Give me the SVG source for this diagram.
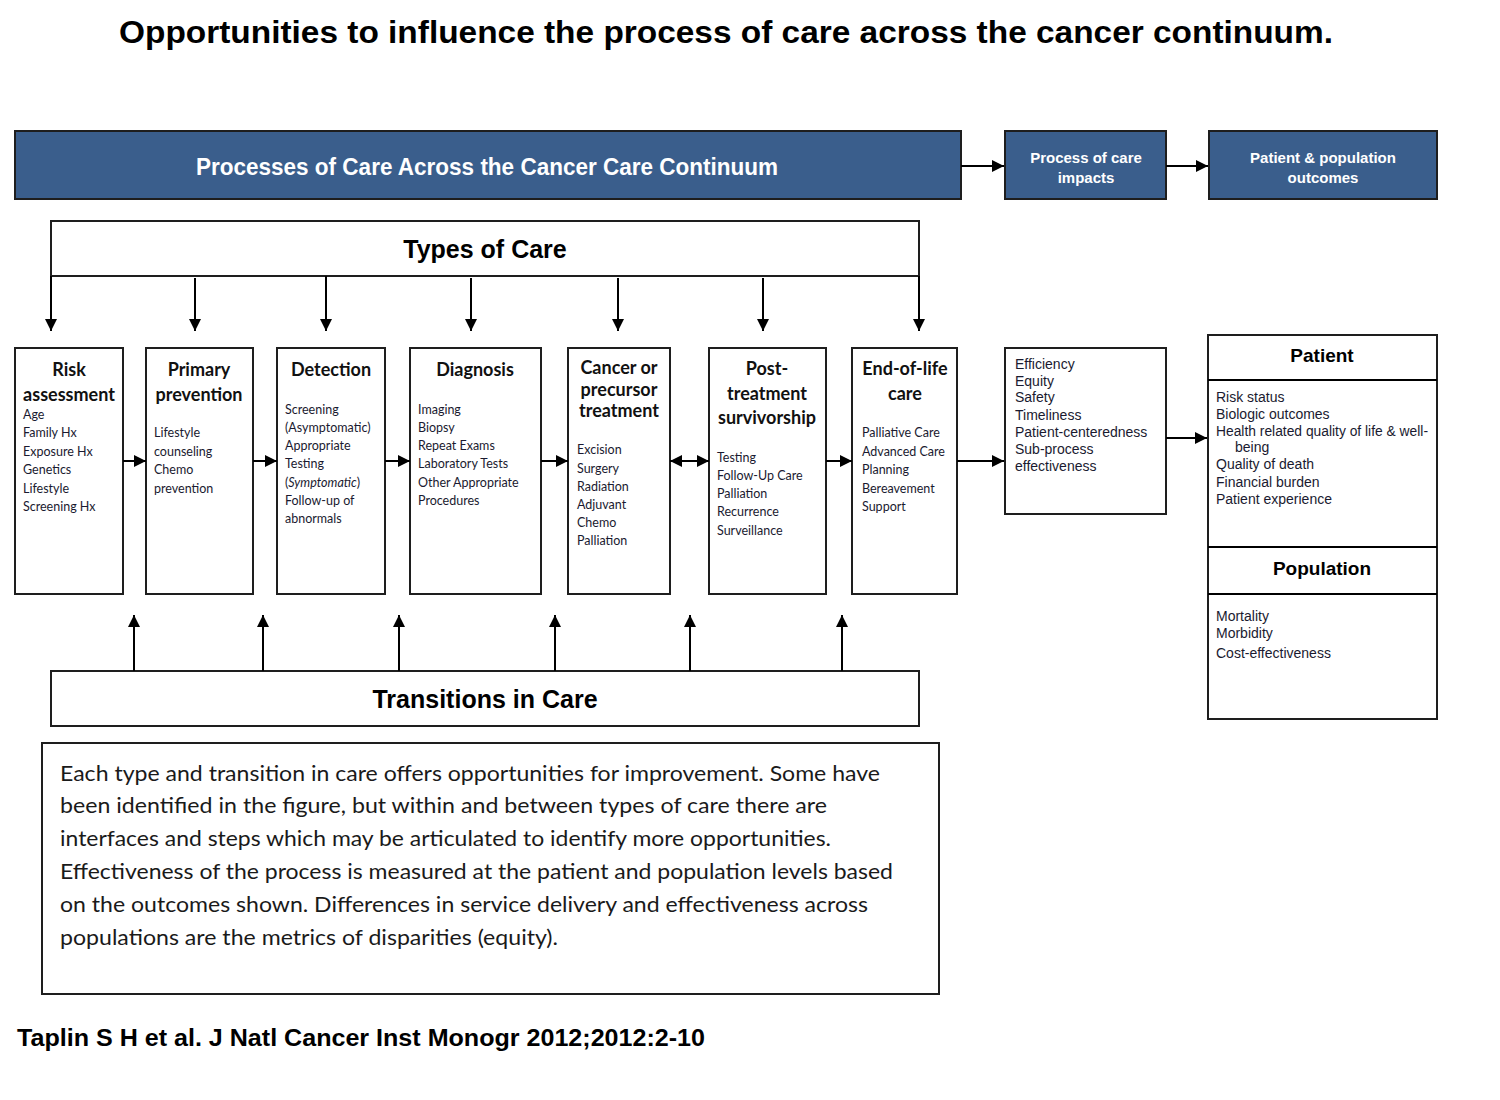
<svg xmlns="http://www.w3.org/2000/svg" width="1500" height="1100" viewBox="0 0 1500 1100">
<style>
.bg{fill:#fff}
.blue{fill:#3A5E8C;stroke:#1e1e1e;stroke-width:2}
.box{fill:#fff;stroke:#1e1e1e;stroke-width:2}
.wt{fill:#fff;font-family:"Liberation Sans",Arial,sans-serif;font-weight:bold;text-anchor:middle}
.hd{fill:#000;font-family:"Liberation Sans",Arial,sans-serif;font-weight:bold;text-anchor:middle}
.st{fill:#111;font-family:Lato,"Open Sans",sans-serif;font-weight:bold;font-size:18px;text-anchor:middle}
.it{fill:#1a1a30;font-family:Lato,"Open Sans",sans-serif;font-size:12.5px}
.ar{fill:#1a1a30;font-family:"Liberation Sans",Arial,sans-serif;font-size:14px}
.para{fill:#1a1a1a;font-family:Lato,"Open Sans",sans-serif;font-size:22px}
.ln{stroke:#000;stroke-width:2;fill:none}
</style>
<defs>
<marker id="ah" viewBox="0 0 10 10" refX="10" refY="5" markerWidth="12" markerHeight="12" markerUnits="userSpaceOnUse" orient="auto-start-reverse">
<path d="M0,0 L10,5 L0,10 z" fill="#000"/>
</marker>
</defs>
<rect class="bg" x="0" y="0" width="1500" height="1100"/>

<text id="title" x="726" y="43" class="hd" font-size="32" textLength="1214" lengthAdjust="spacingAndGlyphs">Opportunities to influence the process of care across the cancer continuum.</text>

<g id="header">
<rect class="blue" x="15" y="131" width="946" height="68"/>
<text class="wt" x="487" y="175" font-size="23" textLength="582" lengthAdjust="spacingAndGlyphs">Processes of Care Across the Cancer Care Continuum</text>
</g>
<g id="impacts-header">
<rect class="blue" x="1005" y="131" width="161" height="68"/>
<text class="wt" x="1086" y="163" font-size="15">Process of care</text>
<text class="wt" x="1086" y="183" font-size="15">impacts</text>
</g>
<g id="outcomes-header">
<rect class="blue" x="1209" y="131" width="228" height="68"/>
<text class="wt" x="1323" y="163" font-size="15">Patient &amp; population</text>
<text class="wt" x="1323" y="183" font-size="15">outcomes</text>
</g>

<g id="types">
<rect class="box" x="51" y="221" width="868" height="55"/>
<text class="hd" x="485" y="258" font-size="25">Types of Care</text>
</g>

<g id="transitions">
<rect class="box" x="51" y="671" width="868" height="55"/>
<text class="hd" x="485" y="708" font-size="25">Transitions in Care</text>
</g>

<g id="risk">
<rect class="box" x="15" y="348" width="108" height="246"/>
<text class="st" x="69" y="376">Risk</text>
<text class="st" x="69" y="401">assessment</text>
<text class="it" x="23" y="419">Age</text>
<text class="it" x="23" y="437">Family Hx</text>
<text class="it" x="23" y="456">Exposure Hx</text>
<text class="it" x="23" y="474">Genetics</text>
<text class="it" x="23" y="493">Lifestyle</text>
<text class="it" x="23" y="511">Screening Hx</text>
</g>

<g id="primary">
<rect class="box" x="146" y="348" width="107" height="246"/>
<text class="st" x="199" y="376">Primary</text>
<text class="st" x="199" y="401">prevention</text>
<text class="it" x="154" y="437">Lifestyle</text>
<text class="it" x="154" y="456">counseling</text>
<text class="it" x="154" y="474">Chemo</text>
<text class="it" x="154" y="493">prevention</text>
</g>

<g id="detection">
<rect class="box" x="277" y="348" width="108" height="246"/>
<text class="st" x="331" y="376">Detection</text>
<text class="it" x="285" y="414">Screening</text>
<text class="it" x="285" y="432">(Asymptomatic)</text>
<text class="it" x="285" y="450">Appropriate</text>
<text class="it" x="285" y="468">Testing</text>
<text class="it" x="285" y="487">(<tspan font-style="italic">Symptomatic</tspan>)</text>
<text class="it" x="285" y="505">Follow-up of</text>
<text class="it" x="285" y="523">abnormals</text>
</g>

<g id="diagnosis">
<rect class="box" x="410" y="348" width="131" height="246"/>
<text class="st" x="475" y="376">Diagnosis</text>
<text class="it" x="418" y="414">Imaging</text>
<text class="it" x="418" y="432">Biopsy</text>
<text class="it" x="418" y="450">Repeat Exams</text>
<text class="it" x="418" y="468">Laboratory Tests</text>
<text class="it" x="418" y="487">Other Appropriate</text>
<text class="it" x="418" y="505">Procedures</text>
</g>

<g id="treatment">
<rect class="box" x="568" y="348" width="102" height="246"/>
<text class="st" x="619" y="374" font-size="15">Cancer or</text>
<text class="st" x="619" y="396" font-size="15">precursor</text>
<text class="st" x="619" y="417" font-size="15">treatment</text>
<text class="it" x="577" y="454">Excision</text>
<text class="it" x="577" y="473">Surgery</text>
<text class="it" x="577" y="491">Radiation</text>
<text class="it" x="577" y="509">Adjuvant</text>
<text class="it" x="577" y="527">Chemo</text>
<text class="it" x="577" y="545">Palliation</text>
</g>

<g id="survivorship">
<rect class="box" x="709" y="348" width="117" height="246"/>
<text class="st" x="767" y="375">Post-</text>
<text class="st" x="767" y="400">treatment</text>
<text class="st" x="767" y="424">survivorship</text>
<text class="it" x="717" y="462">Testing</text>
<text class="it" x="717" y="480">Follow-Up Care</text>
<text class="it" x="717" y="498">Palliation</text>
<text class="it" x="717" y="516">Recurrence</text>
<text class="it" x="717" y="535">Surveillance</text>
</g>

<g id="endoflife">
<rect class="box" x="852" y="348" width="105" height="246"/>
<text class="st" x="905" y="375">End-of-life</text>
<text class="st" x="905" y="400">care</text>
<text class="it" x="862" y="437">Palliative Care</text>
<text class="it" x="862" y="456">Advanced Care</text>
<text class="it" x="862" y="474">Planning</text>
<text class="it" x="862" y="493">Bereavement</text>
<text class="it" x="862" y="511">Support</text>
</g>

<g id="impacts">
<rect class="box" x="1005" y="348" width="161" height="166"/>
<text class="ar" x="1015" y="369">Efficiency</text>
<text class="ar" x="1015" y="386">Equity</text>
<text class="ar" x="1015" y="402">Safety</text>
<text class="ar" x="1015" y="420">Timeliness</text>
<text class="ar" x="1015" y="437">Patient-centeredness</text>
<text class="ar" x="1015" y="454">Sub-process</text>
<text class="ar" x="1015" y="471">effectiveness</text>
</g>

<g id="outcomes">
<rect class="box" x="1208" y="335" width="229" height="384"/>
<line class="ln" x1="1208" y1="380" x2="1437" y2="380"/>
<line class="ln" x1="1208" y1="547" x2="1437" y2="547"/>
<line class="ln" x1="1208" y1="594" x2="1437" y2="594"/>
<text class="hd" x="1322" y="362" font-size="19">Patient</text>
<text class="ar" x="1216" y="402">Risk status</text>
<text class="ar" x="1216" y="419">Biologic outcomes</text>
<text class="ar" x="1216" y="436" textLength="212" lengthAdjust="spacingAndGlyphs">Health related quality of life &amp; well-</text>
<text class="ar" x="1235" y="452">being</text>
<text class="ar" x="1216" y="469">Quality of death</text>
<text class="ar" x="1216" y="487">Financial burden</text>
<text class="ar" x="1216" y="504">Patient experience</text>
<text class="hd" x="1322" y="575" font-size="19">Population</text>
<text class="ar" x="1216" y="621">Mortality</text>
<text class="ar" x="1216" y="638">Morbidity</text>
<text class="ar" x="1216" y="658">Cost-effectiveness</text>
</g>

<g id="note">
<rect class="box" x="42" y="743" width="897" height="251"/>
<text class="para" x="60" y="781" textLength="820" lengthAdjust="spacingAndGlyphs">Each type and transition in care offers opportunities  for improvement.  Some have</text>
<text class="para" x="60" y="813" textLength="767" lengthAdjust="spacingAndGlyphs">been identified in the figure, but  within and between  types of care there are</text>
<text class="para" x="60" y="846" textLength="771" lengthAdjust="spacingAndGlyphs">interfaces and steps  which may be articulated to identify more opportunities.</text>
<text class="para" x="60" y="879" textLength="833" lengthAdjust="spacingAndGlyphs">Effectiveness of the process is measured at the patient and population  levels based</text>
<text class="para" x="60" y="912" textLength="808" lengthAdjust="spacingAndGlyphs">on the outcomes  shown.   Differences in service delivery and effectiveness across</text>
<text class="para" x="60" y="945" textLength="498" lengthAdjust="spacingAndGlyphs">populations  are the metrics of disparities (equity).</text>
</g>

<text id="citation" x="17" y="1046" fill="#000" font-family="'Liberation Sans',Arial,sans-serif" font-weight="bold" font-size="23" textLength="688" lengthAdjust="spacingAndGlyphs">Taplin S H et al. J Natl Cancer Inst Monogr 2012;2012:2-10</text>

<g id="connectors">
<line class="ln" x1="961" y1="166" x2="1004" y2="166" marker-end="url(#ah)"/>
<line class="ln" x1="1166" y1="166" x2="1208" y2="166" marker-end="url(#ah)"/>
<line class="ln" x1="51" y1="276" x2="51" y2="331" marker-end="url(#ah)"/>
<line class="ln" x1="195" y1="278" x2="195" y2="331" marker-end="url(#ah)"/>
<line class="ln" x1="326" y1="276" x2="326" y2="331" marker-end="url(#ah)"/>
<line class="ln" x1="471" y1="278" x2="471" y2="331" marker-end="url(#ah)"/>
<line class="ln" x1="618" y1="278" x2="618" y2="331" marker-end="url(#ah)"/>
<line class="ln" x1="763" y1="278" x2="763" y2="331" marker-end="url(#ah)"/>
<line class="ln" x1="919" y1="276" x2="919" y2="331" marker-end="url(#ah)"/>
<line class="ln" x1="123" y1="461" x2="146" y2="461" marker-end="url(#ah)"/>
<line class="ln" x1="253" y1="461" x2="277" y2="461" marker-end="url(#ah)"/>
<line class="ln" x1="385" y1="461" x2="410" y2="461" marker-end="url(#ah)"/>
<line class="ln" x1="541" y1="461" x2="568" y2="461" marker-end="url(#ah)"/>
<line class="ln" x1="670" y1="461" x2="709" y2="461" marker-start="url(#ah)" marker-end="url(#ah)"/>
<line class="ln" x1="826" y1="461" x2="852" y2="461" marker-end="url(#ah)"/>
<line class="ln" x1="957" y1="461" x2="1004" y2="461" marker-end="url(#ah)"/>
<line class="ln" x1="1166" y1="438" x2="1207" y2="438" marker-end="url(#ah)"/>
<line class="ln" x1="134" y1="671" x2="134" y2="615" marker-end="url(#ah)"/>
<line class="ln" x1="263" y1="671" x2="263" y2="615" marker-end="url(#ah)"/>
<line class="ln" x1="399" y1="671" x2="399" y2="615" marker-end="url(#ah)"/>
<line class="ln" x1="555" y1="671" x2="555" y2="615" marker-end="url(#ah)"/>
<line class="ln" x1="690" y1="671" x2="690" y2="615" marker-end="url(#ah)"/>
<line class="ln" x1="842" y1="671" x2="842" y2="615" marker-end="url(#ah)"/>
</g>
</svg>
